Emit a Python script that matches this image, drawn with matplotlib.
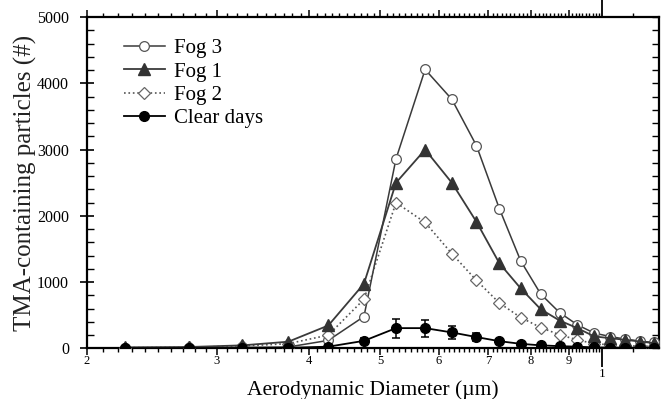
import numpy as np
import matplotlib
matplotlib.use("Agg")
import matplotlib.pyplot as plt
from matplotlib.ticker import FixedLocator, FixedFormatter, NullFormatter

plt.rcParams['font.family'] = ['Liberation Serif', 'DejaVu Serif']

# aerodynamic diameter bin midpoints (um)
diam = [0.225, 0.275, 0.325, 0.375, 0.425, 0.475, 0.525, 0.575, 0.625, 0.675,
        0.725, 0.775, 0.825, 0.875, 0.925, 0.975, 1.025, 1.075, 1.125, 1.175]

fog3 = [8, 10, 15, 20, 120, 480, 2860, 4210, 3760, 3060,
        2110, 1320, 820, 540, 355, 230, 178, 139, 109, 88]
fog1 = [15, 20, 45, 100, 345, 975, 2500, 3000, 2500, 1910,
        1285, 905, 590, 420, 305, 180, 153, 128, 103, 78]
fog2 = [10, 15, 35, 70, 200, 740, 2200, 1900, 1430, 1025,
        685, 465, 314, 205, 128, 70, 53, 40, 32, 30]
clear = [2, 3, 5, 8, 25, 113, 305, 305, 240, 170,
         108, 68, 45, 33, 25, 14, 12, 10, 8, 6]
clear_err = [0, 0, 0, 0, 10, 40, 145, 130, 95, 65,
             40, 25, 15, 12, 10, 8, 6, 5, 5, 4]

minor_ticks = [0.2, 0.3, 0.4, 0.5, 0.6, 0.7, 0.8, 0.9]
minor_labels = ['2', '3', '4', '5', '6', '7', '8', '9']

fig = plt.figure(figsize=(6.64, 3.99), dpi=100)
ax = fig.add_axes([0.131, 0.127, 0.862, 0.830])

line_c = '#3a3a3a'
ax.plot(diam, fog3, '-', color=line_c, lw=1.1, marker='o', ms=7,
        mfc='white', mec='#555555', mew=0.9, label='Fog 3', zorder=3)
ax.plot(diam, fog1, '-', color=line_c, lw=1.3, marker='^', ms=8,
        mfc='#333333', mec='#333333', label='Fog 1', zorder=4)
ax.plot(diam, fog2, ':', color='#555555', lw=1.2, marker='D', ms=6.5,
        mfc='white', mec='#666666', mew=0.9, label='Fog 2', zorder=3)
ax.errorbar(diam, clear, yerr=clear_err, fmt='none', ecolor='black',
            capsize=3, elinewidth=1.1, capthick=1.1, zorder=5)
ax.plot(diam, clear, '-o', color='black', lw=1.3, ms=7, label='Clear days',
        zorder=5)

ax.set_xscale('log')
ax.set_xlim(0.2, 1.195)
ax.set_ylim(0, 5000)

# x ticks: decade "1" as major, 0.2..0.9 as minor labelled
ax.xaxis.set_major_locator(FixedLocator([1.0]))
ax.xaxis.set_major_formatter(FixedFormatter(['1']))
ax.xaxis.set_minor_locator(FixedLocator(minor_ticks))
ax.xaxis.set_minor_formatter(FixedFormatter(minor_labels))
ax.tick_params(axis='x', which='major', direction='out', length=14, width=1.3,
               top=True, labelsize=9.5, pad=0)
ax.tick_params(axis='x', which='minor', direction='out', length=5, width=1.1,
               top=True, labelsize=9, pad=0)

# fine ticks every 0.01 (and 1.1)
fine = [v for v in np.round(np.arange(0.21, 1.0, 0.01), 2) if round(v * 10, 6) % 1 != 0]
fine = fine + [1.1]
for side in ['bottom', 'top']:
    sec = ax.secondary_xaxis(side)
    sec.set_xscale('log')
    sec.xaxis.set_major_locator(FixedLocator(fine))
    sec.xaxis.set_major_formatter(NullFormatter())
    sec.xaxis.set_minor_locator(FixedLocator([]))
    sec.tick_params(axis='x', which='major', direction='out', length=3, width=1.0)
    sec.spines[side].set_visible(False)

# y ticks
ax.yaxis.set_major_locator(FixedLocator(np.arange(0, 5001, 1000)))
ax.yaxis.set_minor_locator(FixedLocator(np.arange(0, 5001, 200)))
ax.tick_params(axis='y', which='major', direction='inout', length=10, width=1.2,
               labelsize=11.5, pad=8)
ax.tick_params(axis='y', which='minor', direction='in', length=5, width=1.0)
secy = ax.secondary_yaxis('right')
secy.yaxis.set_major_locator(FixedLocator(np.arange(0, 5001, 200)))
secy.yaxis.set_major_formatter(NullFormatter())
secy.tick_params(axis='y', direction='in', length=5, width=1.0)
secy.spines['right'].set_visible(False)

for s in ax.spines.values():
    s.set_linewidth(1.6)

ax.set_xlabel('Aerodynamic Diameter (µm)', fontsize=15.5, va='baseline')
ax.xaxis.set_label_coords(0.5, -0.14)
ax.set_ylabel('TMA-containing particles (#)', fontsize=18, color='#222222')
ax.yaxis.set_label_coords(-0.087, 0.5)

ax.legend(loc='upper left', bbox_to_anchor=(0.05, 0.96), frameon=False,
          fontsize=15, handlelength=1.95, handletextpad=0.45, labelspacing=0.18,
          borderaxespad=0)

fig.savefig('out.png', dpi=100)
